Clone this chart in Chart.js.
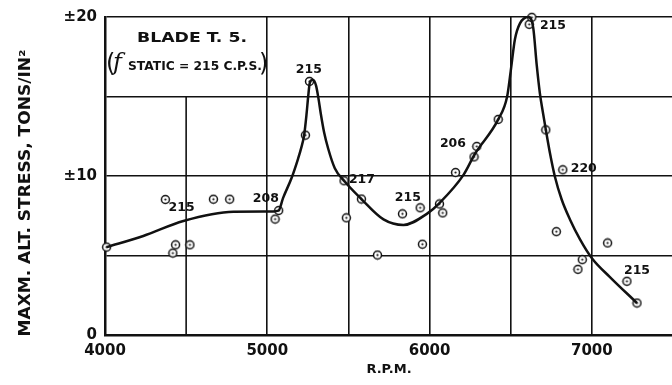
<!DOCTYPE html>
<html>
<head>
<meta charset="utf-8">
<script src="https://cdn.jsdelivr.net/npm/chart.js@4"></script>
<style>
  html, body { margin: 0; padding: 0; background: #fff; overflow: hidden; }
  canvas { display: block; }
</style>
</head>
<body>
<canvas id="grafico" width="690" height="385"></canvas>
<script>
// pontos medidos (rpm, tensão)
const rpm = [4010, 4372, 4418, 4435, 4523, 4668, 4768, 5048, 5070, 5235, 5260, 5473, 5487, 5580, 5679, 5833, 5942, 5956, 6061, 6081, 6160, 6274, 6291, 6423, 6614, 6630, 6716, 6781, 6821, 6914, 6941, 7097, 7216, 7278];
const stress = [5.53, 8.52, 5.15, 5.67, 5.67, 8.54, 8.54, 7.29, 7.83, 12.57, 15.95, 9.70, 7.37, 8.55, 5.03, 7.62, 8.0, 5.71, 8.24, 7.68, 10.22, 11.2, 11.86, 13.56, 19.54, 19.98, 12.9, 6.5, 10.39, 4.13, 4.74, 5.79, 3.38, 2.01];

// curva traçada à mão
const curveRpm = [4010, 4236, 4483, 4791, 5037, 5070, 5097, 5149, 5190, 5210, 5227, 5242, 5252, 5262, 5280, 5300, 5315, 5330, 5350, 5375, 5416, 5473, 5580, 5716, 5839, 5983, 6061, 6209, 6280, 6423, 6478, 6500, 6526, 6557, 6610, 6639, 6660, 6680, 6700, 6717, 6742, 6772, 6814, 6865, 6927, 7004, 7113, 7278];
const curveStress = [5.53, 6.23, 7.17, 7.75, 7.77, 7.83, 8.61, 9.86, 11.1, 11.8, 12.56, 13.9, 15.0, 15.85, 16.05, 15.7, 14.9, 13.9, 12.75, 11.73, 10.49, 9.7, 8.55, 7.27, 6.92, 7.62, 8.3, 10.07, 11.4, 13.56, 15.0, 16.6, 18.6, 19.6, 20.0, 19.3, 17.0, 15.18, 13.9, 12.87, 11.43, 9.97, 8.52, 7.27, 6.02, 4.78, 3.63, 2.01];

// frequências anotadas (c.p.s.)
const noteText = ["215", "208", "215", "217", "215", "206", "215", "220", "215"];
const noteRpm = [4472, 4991, 5256, 5583, 5866, 6144, 6760, 6950, 7278];
const noteStress = [7.98, 8.55, 16.66, 9.78, 8.64, 12.04, 19.46, 10.42, 4.05];

const xTickLabels = [4000, 5000, 6000, 7000];
const yTickLabels = { 0: "0", 10: "±10", 20: "±20" };

const TINTA = "#111";
const FONTE = "'DejaVu Sans', sans-serif";

// marcador: círculo com ponto no centro
function criarMarcador() {
    const c = document.createElement("canvas");
    c.width = 11; c.height = 11;
    const g = c.getContext("2d");
    g.fillStyle = "#fff";
    g.strokeStyle = TINTA;
    g.lineWidth = 1.5;
    g.beginPath(); g.arc(5.5, 5.5, 4, 0, Math.PI * 2); g.fill(); g.stroke();
    g.fillStyle = TINTA;
    g.beginPath(); g.arc(5.5, 5.5, 1.1, 0, Math.PI * 2); g.fill();
    return c;
}

// escreve texto esticado para ocupar a largura dada
function textoLargura(ctx, texto, cx, cy, largura, fonte) {
    ctx.save();
    ctx.font = fonte;
    const m = ctx.measureText(texto).width;
    ctx.translate(cx, cy);
    ctx.scale(largura / m, 1);
    ctx.textAlign = "center";
    ctx.textBaseline = "middle";
    ctx.fillText(texto, 0, 0);
    ctx.restore();
}

const anotacoes = {
    id: "anotacoes",
    beforeDatasetsDraw(chart) {
        const { ctx, scales: { x, y } } = chart;
        // linha de 4500 só abaixo do quadro do título
        ctx.save();
        ctx.strokeStyle = TINTA;
        ctx.lineWidth = 1.6;
        ctx.beginPath();
        ctx.moveTo(x.getPixelForValue(4500), y.getPixelForValue(0));
        ctx.lineTo(x.getPixelForValue(4500), y.getPixelForValue(15));
        ctx.stroke();
        ctx.restore();
    },
    afterDatasetsDraw(chart) {
        const { ctx, scales: { x, y } } = chart;
        ctx.save();
        ctx.fillStyle = TINTA;

        noteText.forEach((t, i) => {
            textoLargura(ctx, t, x.getPixelForValue(noteRpm[i]), y.getPixelForValue(noteStress[i]), 26, `bold 12px ${FONTE}`);
        });

        // quadro do título
        textoLargura(ctx, "BLADE T. 5.", 192, 38, 110, `bold 14px ${FONTE}`);
        ctx.font = `24px ${FONTE}`;
        ctx.textBaseline = "middle";
        ctx.textAlign = "left";
        ctx.fillText("(", 106, 65);
        ctx.fillText(")", 259, 65);
        ctx.font = `italic 24px 'DejaVu Serif', serif`;
        ctx.fillText("f", 113, 64);
        textoLargura(ctx, "STATIC = 215 C.P.S.", 195, 67, 134, `bold 12px ${FONTE}`);

        // título do eixo y
        ctx.save();
        ctx.translate(26, 193);
        ctx.rotate(-Math.PI / 2);
        textoLargura(ctx, "MAXM. ALT. STRESS, TONS/IN²", 0, 0, 287, `bold 15px ${FONTE}`);
        ctx.restore();
        ctx.restore();
    }
};

document.addEventListener("DOMContentLoaded", () => {
    const canvas = document.getElementById("grafico");
    const marcador = criarMarcador();

    new Chart(canvas, {
        type: "scatter",
        data: {
            datasets: [
                {
                    type: "line",
                    data: curveRpm.map((r, i) => ({ x: r, y: curveStress[i] })),
                    borderColor: TINTA,
                    borderWidth: 2.5,
                    pointRadius: 0,
                    cubicInterpolationMode: "monotone",
                    fill: false,
                    clip: false
                },
                {
                    data: rpm.map((r, i) => ({ x: r, y: stress[i] })),
                    pointStyle: marcador,
                    pointRadius: 5,
                    clip: false
                }
            ]
        },
        plugins: [anotacoes],
        options: {
            responsive: false,
            animation: false,
            devicePixelRatio: 1,
            layout: { padding: { top: 14, right: 17, left: 0, bottom: 0 } },
            plugins: {
                legend: { display: false },
                tooltip: { enabled: false }
            },
            scales: {
                x: {
                    type: "linear",
                    min: 4000,
                    max: 7500,
                    afterFit: s => { s.height = 50; },
                    ticks: {
                        stepSize: 500,
                        padding: 7,
                        color: TINTA,
                        font: { family: FONTE, size: 15, weight: "bold" },
                        callback: v => xTickLabels.includes(v) ? String(v) : ""
                    },
                    grid: {
                        drawTicks: false,
                        lineWidth: 1.6,
                        color: c => (c.tick && (c.tick.value === 4500 || c.tick.value === 7500)) ? "rgba(0,0,0,0)" : TINTA
                    },
                    border: { display: true, color: TINTA, width: 2.5 },
                    title: {
                        display: true,
                        text: "R.P.M.",
                        color: TINTA,
                        font: { family: FONTE, size: 13, weight: "bold" },
                        padding: { top: 0, bottom: 8 }
                    }
                },
                y: {
                    min: 0,
                    max: 20,
                    afterFit: s => { s.width = 105; },
                    ticks: {
                        stepSize: 5,
                        padding: 8,
                        color: TINTA,
                        font: { family: FONTE, size: 15, weight: "bold" },
                        callback: v => yTickLabels[v] || ""
                    },
                    grid: { drawTicks: false, lineWidth: 1.6, color: TINTA },
                    border: { display: true, color: TINTA, width: 2.5 }
                }
            }
        }
    });
});
</script>
</body>
</html>
